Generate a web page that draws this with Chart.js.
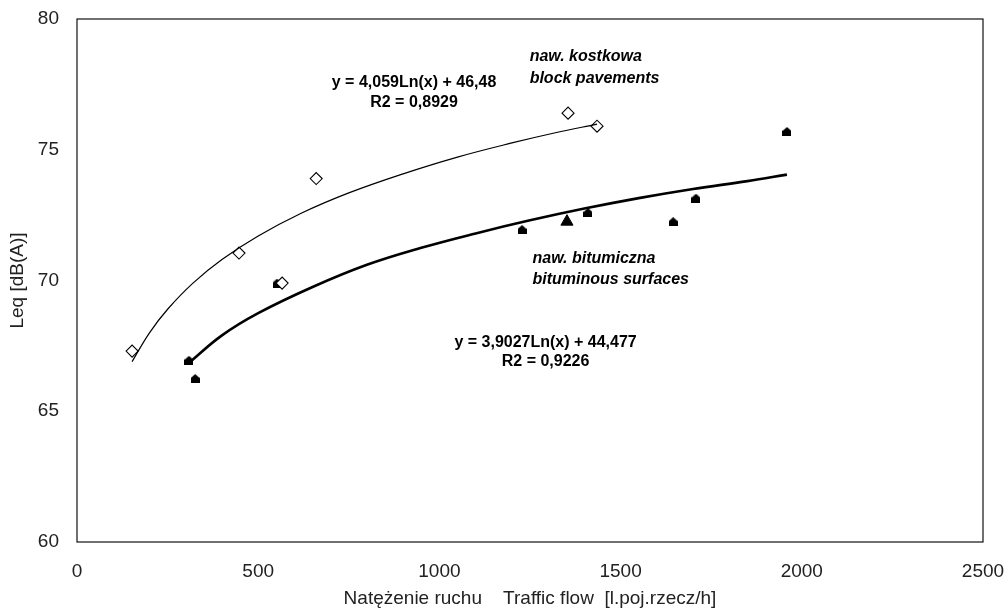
<!DOCTYPE html>
<html>
<head>
<meta charset="utf-8">
<script src="https://cdn.jsdelivr.net/npm/chart.js@4/dist/chart.umd.min.js"></script>
<style>
    html, body { margin: 0; padding: 0; background: #fff; }
    #wrap { width: 1007px; height: 610px; }
</style>
</head>
<body>
<div id="wrap"><canvas id="myChart"></canvas></div>
<script>
// measured points
const blockFlow = [152, 447, 566, 660, 1355, 1435];
const blockLeq = [67.3, 71.05, 69.9, 73.9, 76.4, 75.9];
const bitumFlow = [309, 326, 552, 1228, 1352, 1410, 1645, 1708, 1959];
const bitumLeq = [66.95, 66.25, 69.9, 71.95, 72.25, 72.6, 72.25, 73.15, 75.7];

// trend curves
const blockFitFlow = [152, 200, 250, 320, 400, 500, 620, 750, 900, 1050, 1200, 1320, 1435];
const blockFitLeq = [66.9, 68.0, 68.9, 69.9, 70.8, 71.7, 72.58, 73.35, 74.08, 74.72, 75.26, 75.65, 75.98];
const bitumFitFlow = [309, 400, 500, 650, 800, 950, 1100, 1250, 1400, 1550, 1700, 1850, 1959];
const bitumFitLeq = [66.85, 67.9, 68.75, 69.75, 70.6, 71.25, 71.8, 72.3, 72.75, 73.15, 73.5, 73.8, 74.05];

const xTicks = [0, 500, 1000, 1500, 2000, 2500];
const yTicks = [60, 65, 70, 75, 80];

const FONT = '"Liberation Sans", Arial, sans-serif';

function pairs(xs, ys) {
    return xs.map((x, i) => ({ x: x, y: ys[i] }));
}

// small filled "house" marker
const house = document.createElement('canvas');
house.width = 9;
house.height = 9;
(function () {
    const c = house.getContext('2d');
    c.fillStyle = '#000';
    c.beginPath();
    c.moveTo(4.5, 0);
    c.lineTo(9, 4);
    c.lineTo(9, 9);
    c.lineTo(0, 9);
    c.lineTo(0, 4);
    c.closePath();
    c.fill();
})();

const notes = [
    { x: 930, y: 77.55, text: 'y = 4,059Ln(x) + 46,48', align: 'center', italic: false },
    { x: 930, y: 76.79, text: 'R2 = 0,8929', align: 'center', italic: false },
    { x: 1249, y: 78.55, text: 'naw. kostkowa', align: 'left', italic: true },
    { x: 1249, y: 77.71, text: 'block pavements', align: 'left', italic: true },
    { x: 1257, y: 70.82, text: 'naw. bitumiczna', align: 'left', italic: true },
    { x: 1257, y: 70.02, text: 'bituminous surfaces', align: 'left', italic: true },
    { x: 1293, y: 67.61, text: 'y = 3,9027Ln(x) + 44,477', align: 'center', italic: false },
    { x: 1293, y: 66.88, text: 'R2 = 0,9226', align: 'center', italic: false }
];

const notesPlugin = {
    id: 'notes',
    afterDraw(chart) {
        const ctx = chart.ctx;
        const xs = chart.scales.x, ys = chart.scales.y;
        const a = chart.chartArea;
        ctx.save();
        ctx.strokeStyle = '#111';
        ctx.lineWidth = 1.2;
        ctx.strokeRect(a.left, a.top, a.right - a.left, a.bottom - a.top);
        ctx.fillStyle = '#000';
        ctx.textBaseline = 'middle';
        notes.forEach(n => {
            ctx.font = (n.italic ? 'italic ' : '') + 'bold 16px ' + FONT;
            ctx.textAlign = n.align;
            ctx.fillText(n.text, xs.getPixelForValue(n.x), ys.getPixelForValue(n.y));
        });
        ctx.restore();
    }
};

const ctx = document.getElementById('myChart');

new Chart(ctx, {
    type: 'scatter',
    data: {
        datasets: [{
            label: 'block fit',
            data: pairs(blockFitFlow, blockFitLeq),
            showLine: true,
            borderColor: '#000',
            borderWidth: 1.2,
            pointRadius: 0,
            tension: 0.4
        }, {
            label: 'bituminous fit',
            data: pairs(bitumFitFlow, bitumFitLeq),
            showLine: true,
            borderColor: '#000',
            borderWidth: 2.6,
            pointRadius: 0,
            tension: 0.4
        }, {
            label: 'naw. kostkowa',
            data: pairs(blockFlow, blockLeq),
            pointStyle: 'rectRot',
            pointRadius: 6,
            backgroundColor: '#fff',
            borderColor: '#000',
            borderWidth: 1.1
        }, {
            label: 'naw. bitumiczna',
            data: pairs(bitumFlow, bitumLeq),
            pointStyle: c => c.dataIndex === 4 ? 'triangle' : house,
            pointRadius: c => c.dataIndex === 4 ? 7 : 4.5,
            backgroundColor: '#000',
            borderColor: '#000',
            borderWidth: 1
        }]
    },
    plugins: [notesPlugin],
    options: {
        responsive: true,
        maintainAspectRatio: false,
        animation: false,
        layout: {
            padding: { left: 0, right: 24, top: 19, bottom: 0 }
        },
        plugins: {
            legend: { display: false },
            tooltip: { enabled: false }
        },
        scales: {
            x: {
                type: 'linear',
                min: 0,
                max: 2500,
                grid: { display: false },
                border: { display: false },
                afterBuildTicks: s => { s.ticks = xTicks.map(v => ({ value: v })); },
                afterFit: s => { s.height = 68; s.paddingLeft = 0; s.paddingRight = 0; },
                ticks: {
                    color: '#222',
                    padding: 10,
                    maxRotation: 0,
                    callback: v => String(v),
                    font: { family: FONT, size: 19 }
                },
                title: {
                    display: true,
                    text: 'Natężenie ruchu\u00a0\u00a0\u00a0\u00a0Traffic flow\u00a0\u00a0[l.poj.rzecz/h]',
                    color: '#222',
                    padding: { top: 0, bottom: 0 },
                    font: { family: FONT, size: 19 }
                }
            },
            y: {
                type: 'linear',
                min: 60,
                max: 80,
                grid: { display: false },
                border: { display: false },
                afterBuildTicks: s => { s.ticks = yTicks.map(v => ({ value: v })); },
                afterFit: s => { s.width = 77; s.paddingTop = 0; s.paddingBottom = 0; },
                ticks: {
                    color: '#222',
                    padding: 10,
                    callback: v => String(v),
                    font: { family: FONT, size: 19 }
                },
                title: {
                    display: true,
                    text: 'Leq [dB(A)]',
                    color: '#222',
                    padding: { top: 6, bottom: 0 },
                    font: { family: FONT, size: 19 }
                }
            }
        }
    }
});
</script>
</body>
</html>
